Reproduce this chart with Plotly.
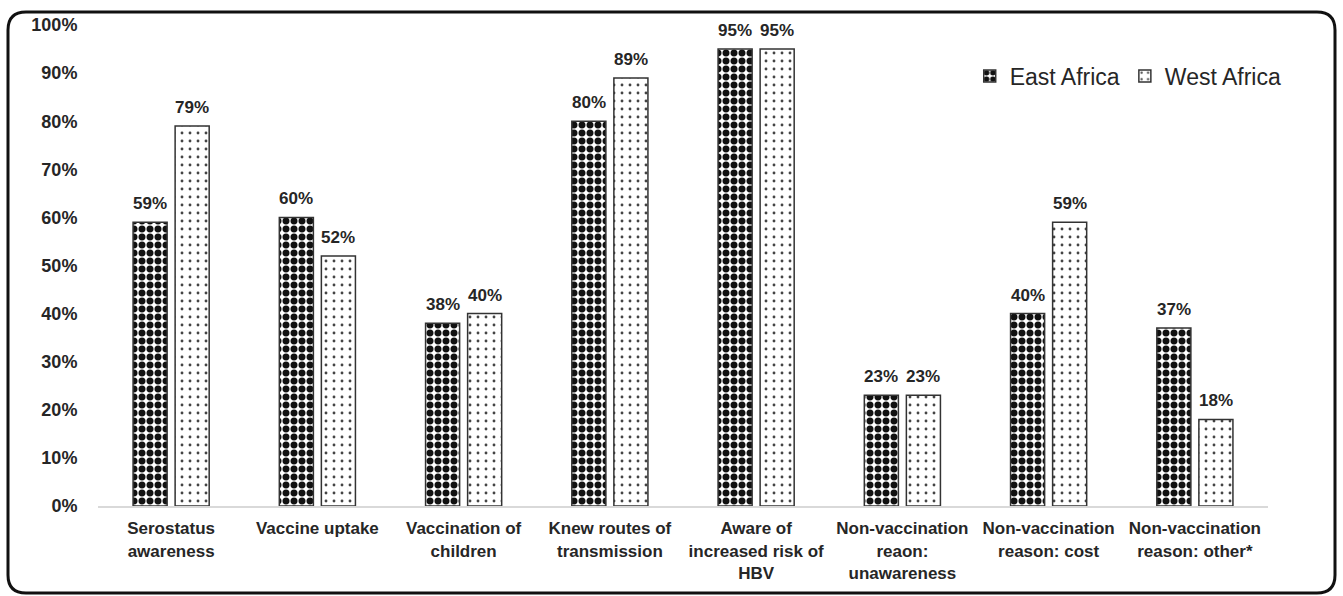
import plotly.graph_objects as go

# Survey indicators by region (percent of respondents)
categories = [
    "Serostatus<br>awareness",
    "Vaccine uptake",
    "Vaccination of<br>children",
    "Knew routes of<br>transmission",
    "Aware of<br>increased risk of<br>HBV",
    "Non-vaccination<br>reaon:<br>unawareness",
    "Non-vaccination<br>reason: cost",
    "Non-vaccination<br>reason: other*",
]
east_africa = [59, 60, 38, 80, 95, 23, 40, 37]
west_africa = [79, 52, 40, 89, 95, 23, 59, 18]
y_ticks = [0, 10, 20, 30, 40, 50, 60, 70, 80, 90, 100]
y_tick_labels = [f"{t}%" for t in y_ticks]

W, H = 1343, 596
ML, MR, MT, MB = 98, 75, 25, 90
FONT = "Liberation Sans, Arial, sans-serif"
TEXT = "#262626"


def px_x(px):
    return (px - ML) / (W - ML - MR)


def px_y(py):
    return (H - MB - py) / (H - MT - MB)


fig = go.Figure()
fig.add_trace(go.Bar(
    name="East Africa", x=categories, y=east_africa,
    marker=dict(
        color="white",
        line=dict(color="#333333", width=1.5),
        pattern=dict(shape=".", fgcolor="#111111", bgcolor="white",
                     size=8, solidity=0.6, fillmode="replace"),
    ),
))
fig.add_trace(go.Bar(
    name="West Africa", x=categories, y=west_africa,
    marker=dict(
        color="white",
        line=dict(color="#333333", width=1.5),
        pattern=dict(shape=".", fgcolor="#444444", bgcolor="white",
                     size=8, solidity=0.1, fillmode="replace"),
    ),
))

# value labels above each bar (bars sit 21 px either side of the category centre)
for values, dx in ((east_africa, -21), (west_africa, 21)):
    for cat, v in zip(categories, values):
        fig.add_annotation(
            x=cat, y=v, xref="x", yref="y", text=f"{v}%", showarrow=False,
            xanchor="center", yanchor="bottom", xshift=dx, yshift=7,
            font=dict(family=FONT, size=17, color=TEXT, weight="bold"),
        )

# rounded frame around the whole figure
x0, y0, x1, y1, r = 8, 12, 1335, 593, 18
X0, X1 = px_x(x0), px_x(x1)
Y0, Y1 = px_y(y0), px_y(y1)
rx = r / (W - ML - MR)
ry = r / (H - MT - MB)
path = (
    f"M {X0 + rx} {Y0} L {X1 - rx} {Y0} Q {X1} {Y0} {X1} {Y0 - ry} "
    f"L {X1} {Y1 + ry} Q {X1} {Y1} {X1 - rx} {Y1} "
    f"L {X0 + rx} {Y1} Q {X0} {Y1} {X0} {Y1 + ry} "
    f"L {X0} {Y0 - ry} Q {X0} {Y0} {X0 + rx} {Y0} Z"
)
fig.add_shape(type="path", path=path, xref="paper", yref="paper",
              line=dict(color="#111111", width=3), fillcolor="rgba(0,0,0,0)")

fig.update_layout(
    width=W, height=H,
    margin=dict(l=ML, r=MR, t=MT, b=MB),
    paper_bgcolor="white", plot_bgcolor="white",
    barmode="group", bargap=0.425, bargroupgap=0.19,
    font=dict(family=FONT, color=TEXT),
    showlegend=True,
    legend=dict(
        orientation="h", x=1.016, xanchor="right", y=px_y(76), yanchor="middle",
        font=dict(family=FONT, size=23, color=TEXT),
        itemwidth=30, bgcolor="rgba(0,0,0,0)", tracegroupgap=0,
    ),
    xaxis=dict(
        showgrid=False, showline=True, linecolor="#d9d9d9", linewidth=2,
        ticks="outside", ticklen=6, tickcolor="rgba(0,0,0,0)",
        tickfont=dict(family=FONT, size=17, color=TEXT, weight="bold"),
        automargin=False,
    ),
    yaxis=dict(
        range=[0, 100], tickvals=y_ticks, ticktext=y_tick_labels,
        showgrid=False, showline=False, zeroline=False,
        ticks="outside", ticklen=16, tickcolor="rgba(0,0,0,0)",
        tickfont=dict(family=FONT, size=18, color=TEXT, weight="bold"),
        automargin=False,
    ),
)

fig.write_html("out.html")
